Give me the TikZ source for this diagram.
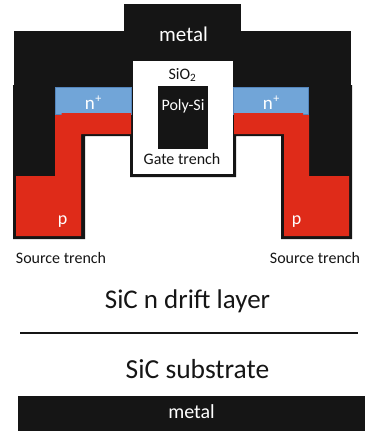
\documentclass[tikz,border=0pt]{standalone}
\usepackage{fontspec}
\setmainfont{Carlito}
\definecolor{blk}{HTML}{151515}
\definecolor{redp}{HTML}{DF2B19}
\definecolor{bluen}{HTML}{71A5D8}
\definecolor{bluee}{HTML}{5485BC}
\tikzset{
  x=1pt,y=-1pt,
  solid/.style={fill=blk,draw=none},
  nreg/.style={fill=bluen,draw=bluee,line width=0.7pt},
  lab/.style={inner sep=0,anchor=center,font=\fontsize{#1}{#1}\selectfont},
  wlab/.style={lab=#1,text=white},
  klab/.style={lab=#1,text=blk}
}
\newcommand{\nplus}{n\hspace{0.5pt}\raisebox{0.36em}{\fontsize{12}{12}\selectfont +}}
\begin{document}
\begin{tikzpicture}
\useasboundingbox (0,0) rectangle (366,431);
% metal and trench outline
\fill[solid] (124,4) rectangle (241,31);
\fill[solid] (14,31) rectangle (351,85);
\fill[solid] (13,85) -- (352,85) -- (352,239) -- (281,239) -- (281,136) -- (236,136) -- (236,177) -- (130,177) -- (130,136) -- (85,136) -- (85,239) -- (13,239) -- cycle;
% n+ regions
\draw[nreg] (55.4,87.4) rectangle (131.6,114.6);
\draw[nreg] (233.4,87.4) rectangle (308.6,114.6);
% p regions
\fill[redp] (61.5,113) -- (131,113) -- (131,134) -- (81,134) -- (81,236) -- (16,236) -- (16,176) -- (55,176) -- (55,115) -- (61.5,115) -- cycle;
\fill[redp] (234,113) -- (303,113) -- (303,115) -- (309,115) -- (309,176) -- (349,176) -- (349,236) -- (284,236) -- (284,134) -- (234,134) -- cycle;
% gate
\fill[white] (133,61) rectangle (233,174);
\fill[solid] (158,85.5) rectangle (207.5,149);
% bottom
\fill[solid] (18,396) rectangle (365,431);
\coordinate (ll) at (20,333.3);
\coordinate (lr) at (358,333.3);
\draw[blk,line width=2pt] (ll) -- (lr);
% labels
\node[wlab=21] (m1) at (183.5,34) {metal};
\node[klab=16] (ox) at (182.5,75) {SiO\textsubscript{2}};
\node[wlab=16] (poly) at (183,106) {Poly-Si};
\node[klab=16] (gt) at (182,159.5) {Gate trench};
\node[wlab=19] (n1) at (93,103) {\nplus};
\node[wlab=19] (n2) at (271,103) {\nplus};
\node[wlab=18] (p1) at (62.5,222) {p};
\node[wlab=18] (p2) at (296.5,222) {p};
\node[klab=16] (s1) at (61,258) {Source trench};
\node[klab=16] (s2) at (315,258) {Source trench};
\node[klab=27] (d) at (187.5,301) {SiC n drift layer};
\node[klab=27.5] (sub) at (197.5,369) {SiC substrate};
\node[wlab=20] (m2) at (191.5,412) {metal};
\end{tikzpicture}
\end{document}
